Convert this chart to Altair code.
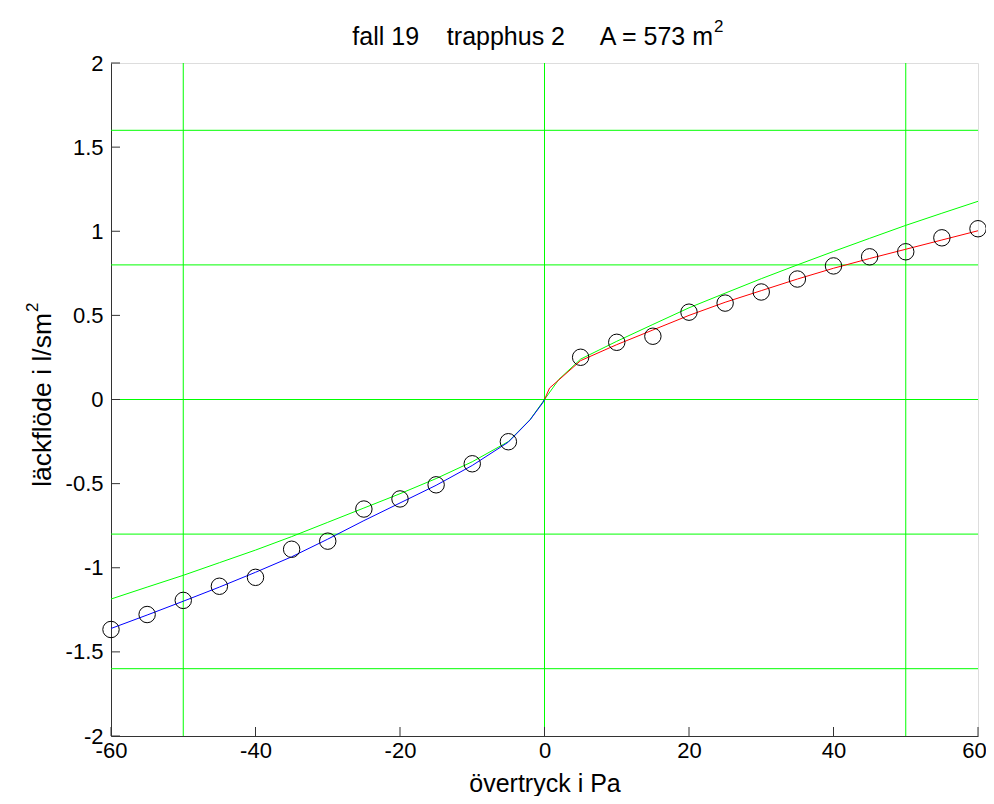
import altair as alt
import pandas as pd

# ---------------- data ----------------
marker_x = [-60, -55, -50, -45, -40, -35, -30, -25, -20, -15, -10, -5,
            5, 10, 15, 20, 25, 30, 35, 40, 45, 50, 55, 60]
marker_y = [-1.367, -1.278, -1.194, -1.110, -1.057, -0.890, -0.842, -0.651,
            -0.591, -0.507, -0.382, -0.251,
            0.251, 0.340, 0.376, 0.519, 0.573, 0.639, 0.716, 0.794, 0.848,
            0.878, 0.961, 1.015]

blue_x = [-60, -55, -50, -45, -40, -35, -30, -25, -20, -15, -10, -5, -2, -0.25, 0]
blue_y = [-1.361, -1.281, -1.199, -1.115, -1.027, -0.935, -0.830, -0.720,
          -0.615, -0.510, -0.392, -0.253, -0.121, -0.020, 0.0]

red_x = [0, 0.7, 2, 5, 10, 15, 20, 25, 30, 35, 40, 45, 50, 55, 60]
red_y = [0.0, 0.068, 0.117, 0.231, 0.326, 0.413, 0.500, 0.578, 0.647, 0.716,
         0.780, 0.838, 0.893, 0.948, 1.003]

green_x = [-60, -55, -50, -45, -40, -35, -30, -25, -20, -15, -10, -5, -2, 0,
           2, 5, 10, 15, 20, 25, 30, 35, 40, 45, 50, 55, 60]
green_y = [-1.186, -1.115, -1.045, -0.970, -0.895, -0.815, -0.730, -0.645,
           -0.560, -0.470, -0.370, -0.250, -0.120, 0.0,
           0.120, 0.240, 0.346, 0.446, 0.545, 0.632, 0.718, 0.800, 0.880,
           0.958, 1.035, 1.107, 1.178]

hlines = [-1.6, -0.8, 0, 0.8, 1.6]
vlines = [-50, 0, 50]

x_ticks = [-60, -40, -20, 0, 20, 40, 60]
y_ticks = [-2, -1.5, -1, -0.5, 0, 0.5, 1, 1.5, 2]

NB = "\u00a0"
title_main = "fall 19" + NB * 4 + "trapphus 2" + NB * 5 + "A = 573 m"
title_sup = "2"
xlabel = "övertryck i Pa"
ylabel_main = "läckflöde i l/sm"
ylabel_sup = "2"

# ---------------- chart ----------------
W, H = 867, 673
FONT = "Liberation Sans"
FS = 22       # tick labels
LFS = 25      # title / x label
YFS = 26.5    # y label
SFS = 17      # superscripts
GREEN = "#00ff00"
AX = "#333333"

minus_fix = "replace(datum.label, '\u2212', '-')"
xscale = alt.Scale(domain=[-60, 60], nice=False, zero=False)
yscale = alt.Scale(domain=[-2, 2], nice=False, zero=False)
xaxis = alt.Axis(values=x_ticks, format="d", labelExpr=minus_fix, ticks=False,
                 grid=False, title=None, labelFont=FONT, labelFontSize=FS,
                 labelColor="black", labelPadding=4, domainColor=AX,
                 labelFlush=False, labelOverlap=False,
                 labelOffset={"condition": {"test": "datum.value == 60",
                                            "value": -4}, "value": 0})
yaxis = alt.Axis(values=y_ticks, format="~g", labelExpr=minus_fix, ticks=False,
                 grid=False, title=None, labelFont=FONT, labelFontSize=FS,
                 labelColor="black", labelPadding=8, domainColor=AX,
                 labelFlush=False, labelOverlap=False)

X = alt.X("x:Q", scale=xscale, axis=xaxis)
Y = alt.Y("y:Q", scale=yscale, axis=yaxis)

df_h = pd.DataFrame({"y": hlines})
df_v = pd.DataFrame({"x": vlines})
hrule = alt.Chart(df_h).mark_rule(color=GREEN, strokeWidth=1).encode(
    y=Y, x=alt.value(0), x2=alt.value(W))
vrule = alt.Chart(df_v).mark_rule(color=GREEN, strokeWidth=1).encode(
    x=X, y=alt.value(0), y2=alt.value(H))

def line(xs, ys, color):
    d = pd.DataFrame({"x": xs, "y": ys, "o": list(range(len(xs)))})
    return alt.Chart(d).mark_line(color=color, strokeWidth=1).encode(
        x=X, y=Y, order="o:Q")

green_line = line(green_x, green_y, GREEN)
red_line = line(red_x, red_y, "#ff0000")
blue_line = line(blue_x, blue_y, "#0000ff")

pts = alt.Chart(pd.DataFrame({"x": marker_x, "y": marker_y})).mark_point(
    shape="circle", size=270, color="black", filled=False, strokeWidth=1,
    opacity=1).encode(x=X, y=Y)

xt = alt.Chart(pd.DataFrame({"x": x_ticks})).mark_rule(
    color=AX, strokeWidth=1).encode(x=X, y=alt.value(H), y2=alt.value(H - 9))
yt = alt.Chart(pd.DataFrame({"y": y_ticks})).mark_rule(
    color=AX, strokeWidth=1).encode(y=Y, x=alt.value(0), x2=alt.value(9))

def txt(s, x, y, size=LFS, align="center", baseline="alphabetic", angle=0):
    kw = dict(font=FONT, fontSize=size, color="black", align=align,
              baseline=baseline)
    if angle:
        kw["angle"] = angle
    return alt.Chart(pd.DataFrame({"t": [s]})).mark_text(**kw).encode(
        text="t:N", x=alt.value(x), y=alt.value(y))

# positions relative to the plot origin (page 111, 63)
t1 = txt(title_main, 602, -18, align="right")
t2 = txt(title_sup, 603, -31, size=SFS, align="left")
xl = txt(xlabel, 434, 729)
yl1 = txt(ylabel_main, -60, 250, size=YFS, align="right", angle=270)
yl2 = txt(ylabel_sup, -73, 249, size=SFS, align="left", angle=270)

chart = alt.layer(vrule, hrule, green_line, red_line, blue_line, pts, xt, yt,
                  t1, t2, xl, yl1, yl2).properties(
    width=W, height=H,
    padding={"left": 103, "top": 55, "right": 8, "bottom": 60},
    autosize=alt.AutoSizeParams(type="none"),
).configure_view(stroke=None).configure(background="white")

chart.save("out.html", embed_options={"renderer": "svg", "actions": False})
